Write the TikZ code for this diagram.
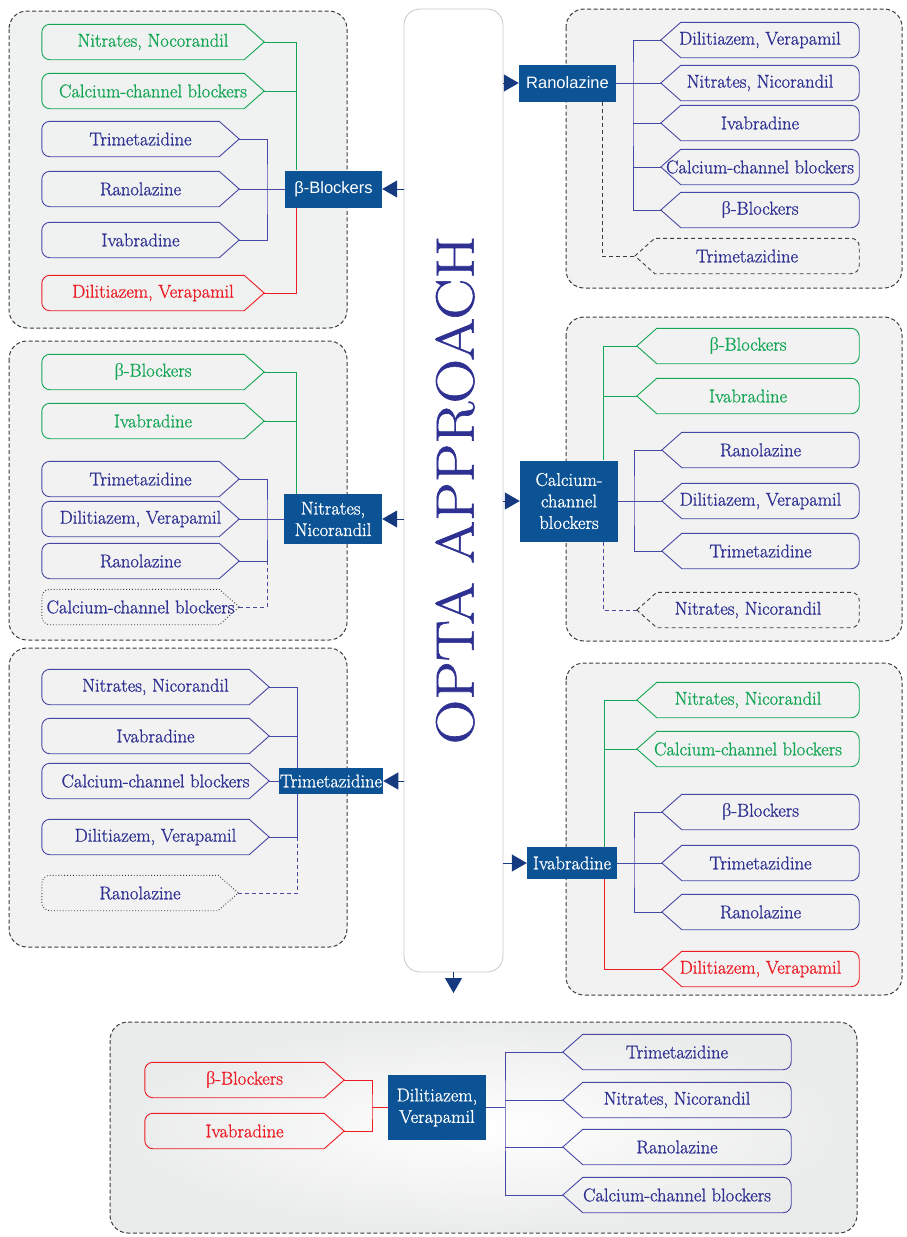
\documentclass[tikz,border=0pt]{standalone}
\usepackage{fontspec}
\newfontfamily\rmx{Latin Modern Roman}[FakeBold=1.0]
\newfontfamily\hsans{Liberation Sans}
\newfontfamily\grk{Liberation Serif}
\usepackage{tikz}
\usetikzlibrary{arrows.meta}

\definecolor{grn}{RGB}{20,166,85}
\definecolor{blu}{RGB}{46,49,146}
\definecolor{bln}{RGB}{70,72,165}
\definecolor{rd}{RGB}{237,28,36}
\definecolor{hdr}{RGB}{11,83,148}
\definecolor{navy}{RGB}{22,58,128}
\definecolor{pnlg}{RGB}{242,242,242}
\definecolor{pnlt}{RGB}{239,242,240}
\definecolor{dk}{RGB}{60,60,60}

\newcommand{\betab}{{\grk β}}

\tikzset{
	itm/.style={minimum height=35pt, inner sep=0pt, font=\rmx\fontsize{18.5}{22}\selectfont},
	toR/.style 2 args={itm, text=#1, append after command={\pgfextra{
		\draw[line width=0.9pt,#2] (\tikzlastnode.east) -- ([xshift=-20pt]\tikzlastnode.north east)
			-- ([xshift=8pt]\tikzlastnode.north west) arc[start angle=90,end angle=180,radius=8pt]
			-- ([yshift=8pt]\tikzlastnode.south west) arc[start angle=180,end angle=270,radius=8pt]
			-- ([xshift=-20pt]\tikzlastnode.south east) -- cycle;}}},
	toL/.style 2 args={itm, text=#1, append after command={\pgfextra{
		\draw[line width=0.9pt,#2] (\tikzlastnode.west) -- ([xshift=20pt]\tikzlastnode.north west)
			-- ([xshift=-8pt]\tikzlastnode.north east) arc[start angle=90,end angle=0,radius=8pt]
			-- ([yshift=8pt]\tikzlastnode.south east) arc[start angle=0,end angle=-90,radius=8pt]
			-- ([xshift=20pt]\tikzlastnode.south west) -- cycle;}}},
	head/.style={fill=hdr, text=white, inner sep=1pt, align=center, font=\rmx\fontsize{18.5}{21.5}\selectfont},
	shead/.style={head, font=\hsans\fontsize{16.5}{19}\selectfont},
	panel/.style={draw=dk, line width=1pt, dash pattern=on 4pt off 2.5pt, rounded corners=18pt},
	arr/.style={navy, line width=1pt, -{Triangle[length=15pt,width=17pt]}},
	gl/.style={grn, line width=0.9pt},
	bl/.style={bln, line width=0.9pt},
	rl/.style={rd, line width=0.9pt},
	dline/.style={dash pattern=on 4pt off 3pt},
}

\begin{document}
\begin{tikzpicture}[x=1pt,y=-1pt]
	\useasboundingbox (0,0) rectangle (907,1237);
	
	% panels
	\draw[panel,fill=pnlt] (9,11) rectangle (347,328);
	\draw[panel,fill=pnlg] (566,9) rectangle (902,288);
	\draw[panel,fill=pnlg] (9,341) rectangle (347,640);
	\draw[panel,fill=pnlg] (566,317) rectangle (902,641);
	\draw[panel,fill=pnlg] (9,648) rectangle (347,947);
	\draw[panel,fill=pnlg] (566,663) rectangle (902,995);
	\shade[rounded corners=18pt,inner color=white,outer color={rgb,255:red,234;green,235;blue,235}] (110,1022) rectangle (857,1233);
	\draw[panel] (110,1022) rectangle (857,1233);
	
	\node[draw={rgb,255:red,200;green,200;blue,205},line width=0.8pt,fill=white,rounded corners=16pt,minimum width=99pt,minimum height=963pt] (col) at (453.5,490.5) {};
	\node[rotate=90,text=blu,font=\rmx\fontsize{54}{60}\selectfont] (ttl) at (455,490) {\scalebox{1.14}[1]{OPTA APPROACH}};
	\coordinate (dn) at (453.5,993);
	
	% headers
	\node[shead,minimum width=97pt,minimum height=37pt] (bb) at (333.5,189) {β-Blockers};
	\node[shead,minimum width=97pt,minimum height=37pt] (ra) at (567.5,83) {Ranolazine};
	\node[head,minimum width=98pt,minimum height=50pt] (nn) at (333,519) {Nitrates,\\Nicorandil};
	\node[head,minimum width=98pt,minimum height=81pt] (cc) at (569,501) {Calcium-\\channel\\blockers};
	\node[head,minimum width=104pt,minimum height=26pt] (tz) at (331,781) {Trimetazidine};
	\node[head,minimum width=90pt,minimum height=32pt] (iv) at (572,863) {Ivabradine};
	\node[head,minimum width=98pt,minimum height=65pt] (dz) at (437,1107.5) {Dilitiazem,\\Verapamil};
	
	\draw[arr] (col.west |- bb.east) -- (bb.east);
	\draw[arr] (col.west |- nn.east) -- (nn.east);
	\draw[arr] (col.west |- tz.east) -- (tz.east);
	\draw[arr] (col.east |- ra.west) -- (ra.west);
	\draw[arr] (col.east |- cc.west) -- (cc.west);
	\draw[arr] (col.east |- iv.west) -- (iv.west);
	\draw[arr] (col.south) -- (dn);
	
	% beta-blockers
	\foreach \i/\y/\t in {1/42/{Nitrates, Nocorandil},2/91/{Calcium-channel blockers}}
		\node[toR={grn}{grn},minimum width=222pt] (a\i) at (153,\y) {\t};
	\foreach \i/\y/\t in {3/139/Trimetazidine,4/189/Ranolazine,5/240/Ivabradine}
		\node[toR={blu}{bln},minimum width=197pt] (a\i) at (140.5,\y) {\t};
	\node[toR={rd}{rd},minimum width=222pt] (a6) at (153,293) {Dilitiazem, Verapamil};
	\coordinate (aG) at ([xshift=12pt]bb.north west);
	\coordinate (aB) at (267,189);
	\draw[gl] (a1.east) -| (aG);
	\draw[gl] (a2.east) -- (a2.east -| aG);
	\draw[rl] (aG |- bb.south) |- (a6.east);
	\draw[bl] (a3.east) -| (aB) |- (a5.east);
	\draw[bl] (a4.east) -- (bb.west);
	
	% ranolazine
	\foreach \i/\y/\t in {1/40/{Dilitiazem, Verapamil},2/83/{Nitrates, Nicorandil},3/123/Ivabradine,4/167/{Calcium-channel blockers},5/210/{\betab-Blockers}}
		\node[toL={blu}{bln},minimum width=198pt] (b\i) at (760,\y) {\t};
	\node[toL={blu}{dk,dline},minimum width=224pt] (b6) at (747,256) {Trimetazidine};
	\coordinate (bB) at (633,83);
	\coordinate (bD) at ([xshift=-14pt]ra.south east);
	\draw[bl] (b1.west) -| (bB) |- (b5.west);
	\draw[bl] (ra.east) -- (b2.west);
	\draw[bl] (b3.west) -- (b3.west -| bB);
	\draw[bl] (b4.west) -- (b4.west -| bB);
	\draw[dk,line width=0.9pt,dline] (bD) |- (b6.west);
	
	% nitrates
	\foreach \i/\y/\t in {1/372/{\betab-Blockers},2/421/Ivabradine}
		\node[toR={grn}{grn},minimum width=222pt] (c\i) at (153,\y) {\t};
	\foreach \i/\y/\t in {3/479/Trimetazidine,4/519/{Dilitiazem, Verapamil},5/561/Ranolazine}
		\node[toR={blu}{bln},minimum width=197pt] (c\i) at (140.5,\y) {\t};
	\node[toR={blu}{dk,dotted},minimum width=197pt] (c6) at (140.5,607) {Calcium-channel blockers};
	\coordinate (cG) at ([xshift=13pt]nn.north west);
	\coordinate (cB) at (267,519);
	\draw[gl] (c1.east) -| (cG);
	\draw[gl] (c2.east) -- (c2.east -| cG);
	\draw[bl] (c3.east) -| (cB) |- (c5.east);
	\draw[bl] (c4.east) -- (nn.west);
	\draw[bl,dline] (c5.east -| cB) |- (c6.east);
	
	% calcium-channel blockers
	\foreach \i/\y/\t in {1/346/{\betab-Blockers},2/396/Ivabradine}
		\node[toL={grn}{grn},minimum width=222pt] (d\i) at (748,\y) {\t};
	\foreach \i/\y/\t in {3/450/Ranolazine,4/501/{Dilitiazem, Verapamil},5/551/Trimetazidine}
		\node[toL={blu}{bln},minimum width=197pt] (d\i) at (760.5,\y) {\t};
	\node[toL={blu}{dk,dline},minimum width=222pt] (d6) at (748,610) {Nitrates, Nicorandil};
	\coordinate (dG) at ([xshift=-15pt]cc.north east);
	\coordinate (dB) at (634,501);
	\draw[gl] (d1.west) -| (dG);
	\draw[gl] (d2.west) -- (d2.west -| dG);
	\draw[bl] (d3.west) -| (dB) |- (d5.west);
	\draw[bl] (cc.east) -- (d4.west);
	\draw[bl,dline] (dG |- cc.south) |- (d6.west);
	
	% trimetazidine
	\foreach \i/\y/\t in {1/687/{Nitrates, Nicorandil},2/736/Ivabradine,3/781/{Calcium-channel blockers},4/837/{Dilitiazem, Verapamil}}
		\node[toR={blu}{bln},minimum width=227pt] (e\i) at (155.5,\y) {\t};
	\node[toR={blu}{dk,dotted},minimum width=196pt] (e5) at (140,893) {Ranolazine};
	\coordinate (eB) at ([xshift=19pt]tz.north west);
	\draw[bl] (e1.east) -| (eB);
	\draw[bl] (e2.east) -- (e2.east -| eB);
	\draw[bl] (e3.east) -- (tz.west);
	\draw[bl] (eB |- tz.south) |- (e4.east);
	\draw[bl,dline] (e4.east -| eB) |- (e5.east);
	
	% ivabradine
	\foreach \i/\y/\t in {1/700/{Nitrates, Nicorandil},2/749/{Calcium-channel blockers}}
		\node[toL={grn}{grn},minimum width=222pt] (f\i) at (748,\y) {\t};
	\foreach \i/\y/\t in {3/812/{\betab-Blockers},4/863/Trimetazidine,5/912/Ranolazine}
		\node[toL={blu}{bln},minimum width=197pt] (f\i) at (760.5,\y) {\t};
	\node[toL={rd}{rd},minimum width=197pt] (f6) at (760.5,969) {Dilitiazem, Verapamil};
	\coordinate (fG) at ([xshift=-13pt]iv.north east);
	\coordinate (fB) at (634,863);
	\draw[gl] (f1.west) -| (fG);
	\draw[gl] (f2.west) -- (f2.west -| fG);
	\draw[rl] (fG |- iv.south) |- (f6.west);
	\draw[bl] (f3.west) -| (fB) |- (f5.west);
	\draw[bl] (iv.east) -- (f4.west);
	
	% dilitiazem, verapamil
	\foreach \i/\y/\t in {1/1080/{\betab-Blockers},2/1131/Ivabradine}
		\node[toR={rd}{rd},minimum width=199pt] (g\i) at (244.5,\y) {\t};
	\foreach \i/\y/\t in {1/1052/Trimetazidine,2/1100/{Nitrates, Nicorandil},3/1147/Ranolazine,4/1195/{Calcium-channel blockers}}
		\node[toL={blu}{bln},minimum width=228pt] (h\i) at (677,\y) {\t};
	\coordinate (gR) at (372,1107.5);
	\coordinate (hB) at (505,1107.5);
	\draw[rl] (g1.east) -| (gR) |- (g2.east);
	\draw[rl] (gR) -- (dz.west);
	\draw[bl] (h1.west) -| (hB) |- (h4.west);
	\draw[bl] (dz.east) -- (hB);
	\draw[bl] (h2.west) -- (h2.west -| hB);
	\draw[bl] (h3.west) -- (h3.west -| hB);
	
\end{tikzpicture}
\end{document}
